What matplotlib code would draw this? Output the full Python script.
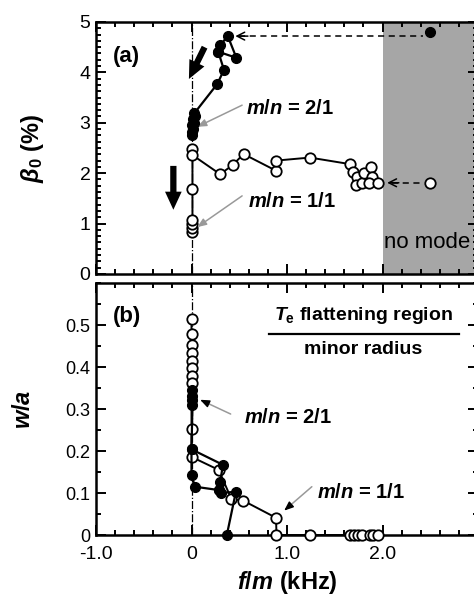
import numpy as np
import matplotlib
matplotlib.use("Agg")
import matplotlib.pyplot as plt
from matplotlib.ticker import MultipleLocator, FixedLocator, FixedFormatter

plt.rcParams['font.family'] = ['Liberation Sans', 'DejaVu Sans']
plt.rcParams['mathtext.fontset'] = 'custom'
plt.rcParams['mathtext.rm'] = 'Liberation Sans:bold'
plt.rcParams['mathtext.it'] = 'Liberation Sans:bold:italic'
plt.rcParams['mathtext.bf'] = 'Liberation Sans:bold'

# -----------------------------
# data, panel (a): beta_0 vs f/m
# -----------------------------
xa_21 = [0.0, 0.01, 0.02, 0.01, 0.03, 0.02, 0.04, 0.03, 0.27, 0.34, 0.28, 0.30, 0.38, 0.47, 0.28]
ya_21 = [2.75, 2.82, 2.88, 2.95, 3.00, 3.07, 3.13, 3.19, 3.77, 4.05, 4.41, 4.54, 4.72, 4.29, 4.41]
xa_11 = [0.01, 0.01, 0.01, 0.01, 0.01, 0.01, 0.01, 0.30, 0.43, 0.545, 0.885, 0.885, 1.24,
         1.66, 1.69, 1.73, 1.72, 1.79, 1.81, 1.88, 1.89, 1.86, 1.95]
ya_11 = [0.83, 0.91, 0.99, 1.07, 1.68, 2.49, 2.36, 1.98, 2.16, 2.38, 2.05, 2.25, 2.31,
         2.18, 2.03, 1.93, 1.77, 1.81, 2.00, 2.13, 1.93, 1.80, 1.80]
# points in the "no mode" region
x_nomode = [2.5, 2.5]
y_nomode = [4.81, 1.81]

# -----------------------------
# data, panel (b): w/a vs f/m
# -----------------------------
xb_11 = [0.0, 0.0, 0.0, 0.0, 0.0, 0.0, 0.0, 0.0, 0.0, 0.0, 0.285, 0.417, 0.54, 0.885, 0.89,
         1.24, 1.656, 1.70, 1.74, 1.786, 1.865, 1.90, 1.95]
yb_11 = [0.514, 0.478, 0.452, 0.433, 0.415, 0.397, 0.379, 0.361, 0.252, 0.186, 0.155, 0.086,
         0.082, 0.041, 0.0, 0.0, 0.0, 0.0, 0.0, 0.0, 0.0, 0.0, 0.0]
xb_21 = [0.01, 0.01, 0.01, 0.01, 0.0, 0.0, 0.035, 0.285, 0.31, 0.465, 0.37]
yb_21 = [0.345, 0.331, 0.321, 0.310, 0.204, 0.144, 0.115, 0.107, 0.100, 0.103, 0.0]
xb_21b = [0.0, 0.33, 0.30, 0.285]
yb_21b = [0.204, 0.167, 0.127, 0.107]

xtick_vals = [-1.0, 0.0, 1.0, 2.0, 3.0]
xtick_text = ['-1.0', '0', '1.0', '2.0', '']


def style_axes(ax, ysize):
    for s in ax.spines.values():
        s.set_linewidth(1.8)
    ax.tick_params(which='both', direction='in', top=True, right=True, width=1.4)
    ax.tick_params(which='major', length=7)
    ax.tick_params(which='minor', length=3.5)
    ax.tick_params(axis='y', labelsize=ysize, pad=4)
    ax.tick_params(axis='x', labelsize=14, pad=8)
    ax.xaxis.set_major_locator(FixedLocator(xtick_vals))
    ax.xaxis.set_major_formatter(FixedFormatter(xtick_text))
    ax.xaxis.set_minor_locator(MultipleLocator(0.2))
    ax.set_xlim(-1.0, 3.0)


def pointer(ax, xy, xytext, head_color):
    # gray leader line with a small head at the data end
    ax.annotate('', xy=xy, xytext=xytext,
                arrowprops=dict(arrowstyle='-', color='0.6', lw=1.1, shrinkA=0, shrinkB=2))
    dx = xytext[0] - xy[0]
    dy = xytext[1] - xy[1]
    ax.annotate('', xy=xy, xytext=(xy[0] + 0.15 * dx, xy[1] + 0.15 * dy),
                arrowprops=dict(arrowstyle='-|>,head_length=0.55,head_width=0.22',
                                color=head_color, lw=1.0, shrinkA=0, shrinkB=0))


fig = plt.figure(figsize=(4.74, 5.99), dpi=100)
W, H = 474.0, 599.0
ax1 = fig.add_axes([96 / W, 1 - 274 / H, 382 / W, 252 / H])
ax2 = fig.add_axes([96 / W, 1 - 535 / H, 382 / W, 252 / H])

mk_f = dict(marker='o', ms=7, mfc='black', mec='black', color='black', lw=1.6)
mk_o = dict(marker='o', ms=7.5, mfc='white', mec='black', mew=1.3, color='black', lw=1.4)

# -----------------------------
# panel (a)
# -----------------------------
style_axes(ax1, 14)
ax1.set_ylim(0, 5)
ax1.yaxis.set_major_locator(MultipleLocator(1))
ax1.yaxis.set_minor_locator(MultipleLocator(0.125))
ax1.tick_params(axis='x', labelbottom=False)
ax1.axvspan(2.0, 3.0, color='#a6a6a6', lw=0, zorder=0)
ax1.axvline(0, color='black', ls='-.', lw=0.9, zorder=1)

ax1.plot(xa_11, ya_11, zorder=3, **mk_o)
ax1.plot(xa_21, ya_21, zorder=4, **mk_f)
ax1.plot(x_nomode[0], y_nomode[0], ls='none', zorder=4, **{k: v for k, v in mk_f.items() if k != 'lw'})
ax1.plot(x_nomode[1], y_nomode[1], ls='none', zorder=4, **{k: v for k, v in mk_o.items() if k != 'lw'})

# dashed arrows from the "no mode" points
ax1.plot([0.5, 2.42], [4.72, 4.72], ls=(0, (4, 3)), color='black', lw=1.1)
ax1.annotate('', xy=(0.43, 4.72), xytext=(0.62, 4.72),
             arrowprops=dict(arrowstyle='->,head_length=0.55,head_width=0.28', color='black', lw=1.1))
ax1.plot([2.1, 2.42], [1.81, 1.81], ls=(0, (4, 3)), color='black', lw=1.1)
ax1.annotate('', xy=(2.02, 1.81), xytext=(2.2, 1.81),
             arrowprops=dict(arrowstyle='->,head_length=0.55,head_width=0.28', color='black', lw=1.1))

# thick black arrows
ax1.annotate('', xy=(-0.04, 3.82), xytext=(0.15, 4.55),
             arrowprops=dict(arrowstyle='simple,head_length=1.3,head_width=1.2,tail_width=0.45',
                             color='black', lw=0))
ax1.annotate('', xy=(-0.19, 1.22), xytext=(-0.19, 2.2),
             arrowprops=dict(arrowstyle='simple,head_length=1.3,head_width=1.2,tail_width=0.45',
                             color='black', lw=0))

pointer(ax1, (0.06, 2.92), (0.53, 3.35), '0.6')
pointer(ax1, (0.06, 0.93), (0.53, 1.55), '0.6')
ax1.text(0.57, 3.29, r'$m/n$ = 2/1', fontsize=14.5, fontweight='bold', va='center', ha='left')
ax1.text(0.59, 1.43, r'$m/n$ = 1/1', fontsize=14.5, fontweight='bold', va='center', ha='left')
ax1.text(-0.82, 4.32, '(a)', fontsize=16, fontweight='bold', va='center', ha='left')
ax1.text(2.02, 0.62, 'no mode', fontsize=16, va='center', ha='left')
ax1.set_ylabel(r'$\beta_0$ (%)', fontsize=17, fontweight='bold', labelpad=24)

# -----------------------------
# panel (b)
# -----------------------------
style_axes(ax2, 13)
ax2.set_ylim(0, 0.6)
ax2.yaxis.set_major_locator(FixedLocator([0, 0.1, 0.2, 0.3, 0.4, 0.5]))
ax2.yaxis.set_major_formatter(FixedFormatter(['0', '0.1', '0.2', '0.3', '0.4', '0.5']))
ax2.yaxis.set_minor_locator(MultipleLocator(0.05))
ax2.axvline(0, color='black', ls='-.', lw=0.9, zorder=1)

ax2.plot(xb_11, yb_11, zorder=3, clip_on=False, **mk_o)
ax2.plot(xb_21b, yb_21b, zorder=4, clip_on=False, **mk_f)
ax2.plot(xb_21, yb_21, zorder=4, clip_on=False, **mk_f)

pointer(ax2, (0.09, 0.322), (0.41, 0.288), 'black')
pointer(ax2, (0.97, 0.058), (1.26, 0.115), 'black')
ax2.text(0.55, 0.28, r'$m/n$ = 2/1', fontsize=14.5, fontweight='bold', va='center', ha='left')
ax2.text(1.31, 0.102, r'$m/n$ = 1/1', fontsize=14.5, fontweight='bold', va='center', ha='left')
ax2.text(-0.82, 0.52, '(b)', fontsize=16, fontweight='bold', va='center', ha='left')

ax2.text(1.8, 0.522, r'$T_\mathrm{e}$ flattening region', fontsize=14, fontweight='bold',
         va='center', ha='center')
ax2.plot([0.81, 2.8], [0.479, 0.479], color='black', lw=1.6)
ax2.text(1.8, 0.441, 'minor radius', fontsize=14, fontweight='bold', va='center', ha='center')

ax2.set_ylabel(r'$w/a$', fontsize=17, labelpad=22)
ax2.set_xlabel(r'$f/m$ (kHz)', fontsize=17, fontweight='bold', labelpad=4)

fig.savefig('out.png', dpi=100)
